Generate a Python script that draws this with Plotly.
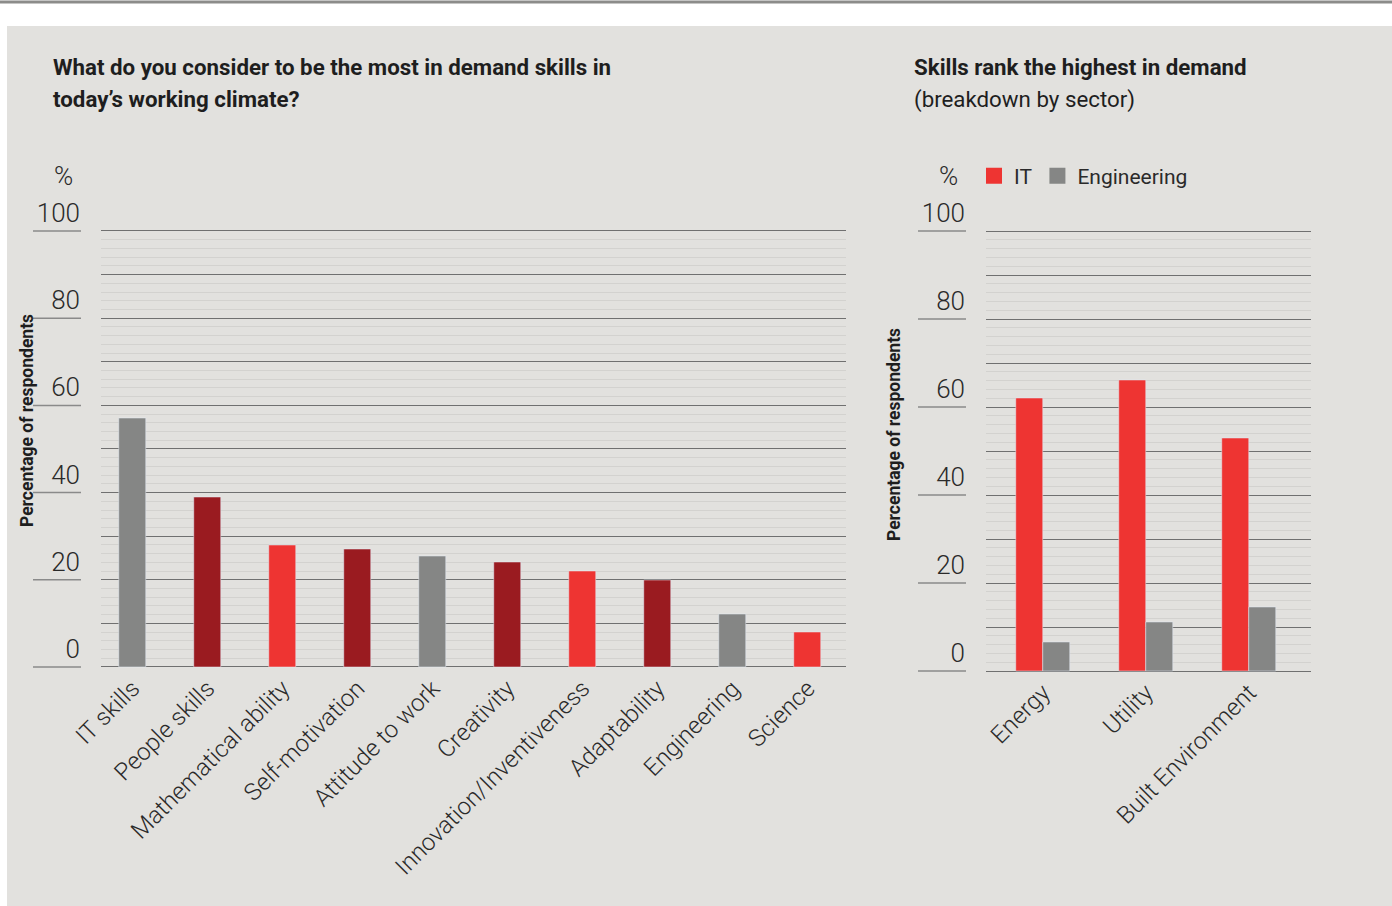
import plotly.graph_objects as go

W, H = 1392, 906

# ---- data ----
skills = ["IT skills", "People skills", "Mathematical ability", "Self-motivation",
          "Attitude to work", "Creativity", "Innovation/Inventiveness",
          "Adaptability", "Engineering", "Science"]
skill_values = [57, 39, 28, 27, 25.5, 24, 22, 20, 12, 8]
skill_groups = ["grey", "darkred", "red", "darkred", "grey", "darkred", "red",
                "darkred", "grey", "red"]

sectors = ["Energy", "Utility", "Built Environment"]
it_values = [62, 66, 53]
eng_values = [6.5, 11, 14.5]

y_ticks = [0, 10, 20, 30, 40, 50, 60, 70, 80, 90, 100]
y_ticktext = ["0", "", "20", "", "40", "", "60", "", "80", "", "100"]
label_ticks = [0, 20, 40, 60, 80, 100]

# ---- style ----
COL = {"grey": "#858685", "darkred": "#9a1b20", "red": "#ee3432"}
BG = "#e2e1de"
FONT = "Roboto"
TXT = "#1e1e1e"
TICK = "#2a2a2a"

def px_x(p):
    return p / W

def px_y(p):
    return 1 - p / H

fig = go.Figure()

fig.add_trace(go.Bar(
    x=skills, y=skill_values, marker_color=[COL[g] for g in skill_groups],
    width=0.36, showlegend=False, xaxis="x", yaxis="y",
))
fig.add_trace(go.Bar(
    x=sectors, y=it_values, marker_color=COL["red"], name="IT",
    width=0.26, offset=-0.26, xaxis="x2", yaxis="y2", showlegend=False,
))
fig.add_trace(go.Bar(
    x=sectors, y=eng_values, marker_color=COL["grey"], name="Engineering",
    width=0.26, offset=0.0, xaxis="x2", yaxis="y2", showlegend=False,
))
# legend proxies
fig.add_trace(go.Scatter(x=[None], y=[None], mode="markers", name="IT",
                         marker=dict(symbol="square", size=16, color=COL["red"]),
                         xaxis="x2", yaxis="y2"))
fig.add_trace(go.Scatter(x=[None], y=[None], mode="markers", name="Engineering",
                         marker=dict(symbol="square", size=16, color=COL["grey"]),
                         xaxis="x2", yaxis="y2"))

def yaxis_cfg(dom, rng):
    return dict(
        domain=dom, range=rng, tickvals=y_ticks, ticktext=y_ticktext,
        showgrid=True, gridcolor="#707070", gridwidth=1.3,
        zeroline=False, showline=False, ticks="", automargin=False,
        ticklabelposition="outside top", ticklabelstandoff=20,
        tickfont=dict(family=FONT, size=26, color=TICK, weight=300),
        minor=dict(dtick=2, showgrid=True, gridcolor="#d3d2cf", gridwidth=1),
        fixedrange=True,
    )

# left axis: y0 at 667px, y100 at 231px
lo, hi = -0.4, 100.4
ppu = (667 - 231) / 100
fig.update_layout(
    xaxis=dict(domain=[px_x(101), px_x(846)], range=[-0.42, 9.51], automargin=False,
               tickangle=-45, tickfont=dict(family=FONT, size=24, color=TICK, weight=300),
               showgrid=False, showline=False, ticks="", anchor="y"),
    yaxis=yaxis_cfg([px_y(667 - lo * ppu), px_y(667 - hi * ppu)], [lo, hi]),
)
ppu2 = (671 - 231) / 100
fig.update_layout(
    xaxis2=dict(domain=[px_x(986), px_x(1311)], range=[-0.553, 2.60], automargin=False,
                tickangle=-45, tickfont=dict(family=FONT, size=24, color=TICK, weight=300),
                showgrid=False, showline=False, ticks="", anchor="y2"),
    yaxis2=yaxis_cfg([px_y(671 - lo * ppu2), px_y(671 - hi * ppu2)], [lo, hi]),
)
fig.layout.yaxis2.anchor = "x2"

shapes = [
    dict(type="rect", xref="paper", yref="paper", x0=px_x(7), x1=1, y0=0, y1=px_y(26),
         fillcolor=BG, line_width=0, layer="below"),
    dict(type="line", xref="paper", yref="paper", x0=0, x1=1, y0=px_y(2), y1=px_y(2),
         line=dict(color="#8c8c8a", width=3)),
]
for v in label_ticks:
    shapes.append(dict(type="line", xref="paper", yref="y", x0=px_x(33), x1=px_x(81),
                       y0=v, y1=v, line=dict(color="#8a8a8a", width=1.5)))
    shapes.append(dict(type="line", xref="paper", yref="y2", x0=px_x(918), x1=px_x(966),
                       y0=v, y1=v, line=dict(color="#8a8a8a", width=1.5)))

def txt(text, x, y, size, xanchor="left", angle=0, color=TXT, weight=None):
    f = dict(family=FONT, size=size, color=color)
    if weight:
        f["weight"] = weight
    return dict(text=text, xref="paper", yref="paper", x=px_x(x), y=px_y(y),
                xanchor=xanchor, yanchor="middle", textangle=angle, showarrow=False,
                align="left", font=f)

annotations = [
    txt("<b>What do you consider to be the most in demand skills in</b>", 51, 67, 22.3),
    txt("<b>today\u2019s working climate?</b>", 51, 99, 22.3),
    txt("<b>Skills rank the highest in demand</b>", 912, 67, 22.3),
    txt("(breakdown by sector)", 912, 99, 22.3),
    txt("%", 63, 176, 26, xanchor="center", color=TICK, weight=300),
    txt("%", 948, 176, 26, xanchor="center", color=TICK, weight=300),
    txt("<b>Percentage of respondents</b>", 27, 421, 17.5, xanchor="center", angle=-90),
    txt("<b>Percentage of respondents</b>", 894, 435, 17.5, xanchor="center", angle=-90),
]

fig.update_layout(
    width=W, height=H, margin=dict(l=0, r=0, t=0, b=0, pad=0, autoexpand=False),
    paper_bgcolor="white", plot_bgcolor="rgba(0,0,0,0)",
    shapes=shapes, annotations=annotations, bargap=0,
    legend=dict(orientation="h", x=px_x(974), y=px_y(176), xanchor="left", yanchor="middle",
                font=dict(family=FONT, size=21, color=TICK), bgcolor="rgba(0,0,0,0)",
                itemwidth=30, tracegroupgap=0),
)

fig.write_html("out.html")
